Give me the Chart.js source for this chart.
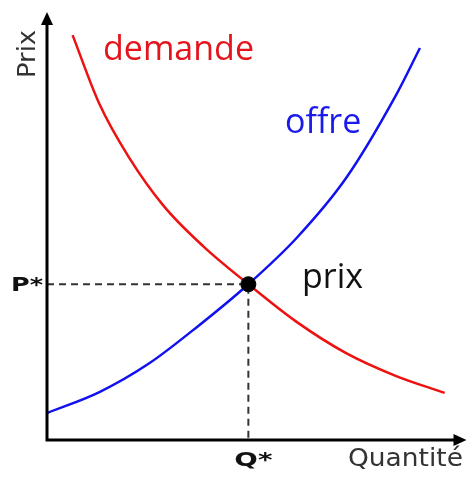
<!DOCTYPE html>
<html>
<head>
<meta charset="utf-8">
<script src="https://cdn.jsdelivr.net/npm/chart.js@4"></script>
<style>
  html, body { margin: 0; padding: 0; background: #fff; }
  #wrap { width: 475px; height: 477px; }
</style>
</head>
<body>
<div id="wrap"><canvas id="chart"></canvas></div>
<script>
// values (quantity 0-100, price 0-100)
const demandQ = [6.1, 12.5, 19.5, 27.8, 37.2, 48.0, 59.5, 71.3, 83.1, 94.8];
const demandP = [94.6, 78.5, 66.1, 54.7, 45.3, 36.4, 27.6, 20.3, 15.0, 11.0];
const supplyQ = [0, 12.5, 24.2, 36.0, 48.0, 59.5, 71.3, 83.1, 88.9];
const supplyP = [6.3, 11.2, 17.8, 26.6, 36.4, 47.2, 61.2, 80.4, 91.6];
const eqQ = 48.0;
const eqP = 36.4;

const toPts = (xs, ys) => xs.map((x, i) => ({ x: x, y: ys[i] }));

// text squeezed/stretched to a given width
function fillTextW(ctx, txt, x, y, w, align) {
    const m = ctx.measureText(txt).width;
    const sx = w / m;
    ctx.save();
    ctx.textAlign = 'left';
    let left = x;
    if (align === 'center') left = x - w / 2;
    if (align === 'right') left = x - w;
    ctx.translate(left, y);
    ctx.scale(sx, 1);
    ctx.fillText(txt, 0, 0);
    ctx.restore();
}

// axes with arrow heads + the text labels
const decor = {
    id: 'decor',
    afterDraw(chart) {
        const ctx = chart.ctx;
        const a = chart.chartArea;
        const xs = chart.scales.x, ys = chart.scales.y;
        ctx.save();
        ctx.strokeStyle = '#000';
        ctx.fillStyle = '#000';
        ctx.lineWidth = 3;
        ctx.beginPath();
        ctx.moveTo(a.left, a.top + 6);
        ctx.lineTo(a.left, a.bottom);
        ctx.lineTo(a.right - 6, a.bottom);
        ctx.stroke();
        // y arrow
        ctx.beginPath();
        ctx.moveTo(a.left, a.top);
        ctx.lineTo(a.left - 6, a.top + 13);
        ctx.lineTo(a.left + 6, a.top + 13);
        ctx.closePath();
        ctx.fill();
        // x arrow
        ctx.beginPath();
        ctx.moveTo(a.right, a.bottom);
        ctx.lineTo(a.right - 13, a.bottom - 6);
        ctx.lineTo(a.right - 13, a.bottom + 6);
        ctx.closePath();
        ctx.fill();

        // axis titles
        ctx.fillStyle = '#333';
        ctx.font = '25px "DejaVu Sans"';
        ctx.textBaseline = 'alphabetic';
        ctx.save();
        ctx.translate(35, 78);
        ctx.rotate(-Math.PI / 2);
        fillTextW(ctx, 'Prix', 0, 0, 48, 'left');
        ctx.restore();
        fillTextW(ctx, 'Quantité', 348, 466, 115, 'left');

        // P* and Q*
        ctx.fillStyle = '#111';
        ctx.font = 'bold 20px "DejaVu Sans"';
        fillTextW(ctx, 'P*', a.left - 4, ys.getPixelForValue(eqP) + 7, 32, 'right');
        fillTextW(ctx, 'Q*', xs.getPixelForValue(eqQ) + 5, 466, 38, 'center');

        // curve names
        ctx.font = '34px "Open Sans"';
        ctx.textAlign = 'left';
        ctx.fillStyle = '#e4141c';
        ctx.fillText('demande', 103, 60);
        ctx.fillStyle = '#1a1aee';
        ctx.fillText('offre', 285, 133);
        ctx.fillStyle = '#111';
        ctx.fillText('prix', 302, 288);
        ctx.restore();
    }
};

new Chart(document.getElementById('chart').getContext('2d'), {
    type: 'scatter',
    data: {
        datasets: [{
            label: 'prix',
            data: [{ x: eqQ, y: eqP }],
            pointRadius: 7.5,
            pointBackgroundColor: '#000',
            pointBorderColor: '#000'
        }, {
            label: 'demande',
            data: toPts(demandQ, demandP),
            showLine: true,
            borderColor: '#ee1111',
            borderWidth: 2.5,
            pointRadius: 0,
            cubicInterpolationMode: 'monotone'
        }, {
            label: 'offre',
            data: toPts(supplyQ, supplyP),
            showLine: true,
            borderColor: '#1212f0',
            borderWidth: 2.5,
            pointRadius: 0,
            cubicInterpolationMode: 'monotone'
        }, {
            label: 'guides',
            data: [{ x: 0, y: eqP }, { x: eqQ, y: eqP }, { x: eqQ, y: 0 }],
            showLine: true,
            borderColor: '#333',
            borderWidth: 2,
            borderDash: [7, 5],
            pointRadius: 0
        }]
    },
    options: {
        responsive: true,
        maintainAspectRatio: false,
        animation: false,
        layout: { padding: { left: 47, right: 3, top: 12, bottom: 37 } },
        scales: {
            x: { type: 'linear', min: 0, max: 100, display: false },
            y: { type: 'linear', min: 0, max: 100, display: false }
        },
        plugins: {
            legend: { display: false },
            tooltip: { enabled: false }
        }
    },
    plugins: [decor]
});
</script>
</body>
</html>
